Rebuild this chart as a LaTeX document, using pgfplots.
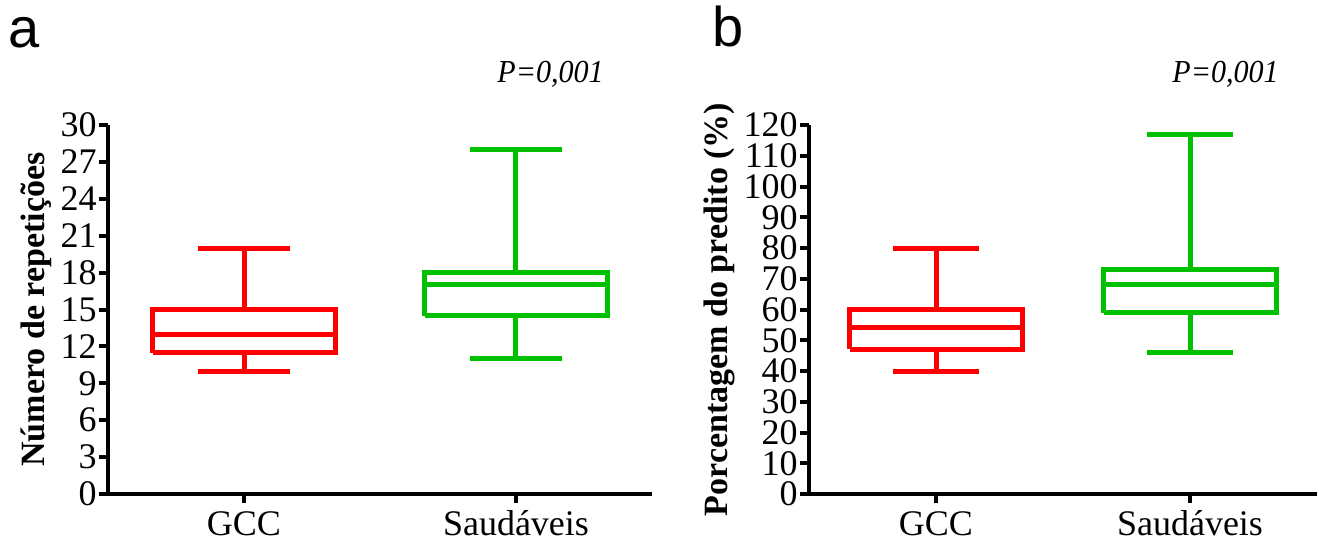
\documentclass[border=0pt]{standalone}
\usepackage{fontspec}
\setmainfont{Liberation Serif}
\newfontfamily\arial{Liberation Sans}
\usepackage{pgfplots}
\pgfplotsset{compat=1.18}
\definecolor{boxred}{RGB}{255,0,0}
\definecolor{boxgreen}{RGB}{0,192,0}

\pgfplotsset{
  panel/.style={
    scale only axis, height=184.5pt,
    axis lines=left, axis line style={-, line width=2pt},
    xmin=0.5, xmax=2.5, ymin=0,
    xtick={1,2}, xticklabels={GCC,Saudáveis},
    tick align=outside, major tick length=4.5pt,
    tick style={black, line width=2pt},
    tick label style={font=\fontsize{18}{18}\selectfont},
    yticklabel style={inner xsep=1pt, inner ysep=0pt},
    xticklabel style={text height=14pt, inner sep=2pt},
    /pgf/number format/assume math mode=true,
    ylabel style={font=\bfseries\fontsize{17}{17}\selectfont},
    clip=false, unbounded coords=jump,
  },
  bx/.style={line width=2.5pt, line join=miter, mark=none, forget plot},
}

\begin{document}
\begin{tikzpicture}
\path[use as bounding box] (0,0) rectangle (659.5pt,-270.5pt);

% panel a: GCC 10 / 11.5 / 13 / 15 / 20, Saudaveis 11 / 14.5 / 17 / 18 / 28
\begin{axis}[panel, at={(54pt,-247pt)}, anchor=south west, width=272pt,
  ymax=30, ytick={0,3,...,30}, ylabel={Número de repetições}]
\addplot[bx, boxred] coordinates {(0.665,11.5)(1.335,11.5)(1.335,15)(0.665,15)(0.665,11.5)};
\addplot[bx, boxred] coordinates {(0.665,13)(1.335,13)(1,nan)
  (1,15)(1,20)(1,nan)(0.8325,20)(1.1675,20)(1,nan)
  (1,11.5)(1,10)(1,nan)(0.8325,10)(1.1675,10)};
\addplot[bx, boxgreen] coordinates {(1.665,14.5)(2.335,14.5)(2.335,18)(1.665,18)(1.665,14.5)};
\addplot[bx, boxgreen] coordinates {(1.665,17)(2.335,17)(2,nan)
  (2,18)(2,28)(2,nan)(1.8325,28)(2.1675,28)(2,nan)
  (2,14.5)(2,11)(2,nan)(1.8325,11)(2.1675,11)};
\end{axis}

% panel b: GCC 40 / 47 / 54 / 60 / 80, Saudaveis 46 / 59 / 68 / 73 / 117
\begin{axis}[panel, at={(404.5pt,-247pt)}, anchor=south west, width=254pt,
  ymax=120, ytick={0,10,...,120}, ylabel={Porcentagem do predito (\%)}]
\addplot[bx, boxred] coordinates {(0.66,47)(1.34,47)(1.34,60)(0.66,60)(0.66,47)};
\addplot[bx, boxred] coordinates {(0.66,54)(1.34,54)(1,nan)
  (1,60)(1,80)(1,nan)(0.8325,80)(1.1675,80)(1,nan)
  (1,47)(1,40)(1,nan)(0.8325,40)(1.1675,40)};
\addplot[bx, boxgreen] coordinates {(1.66,59)(2.34,59)(2.34,73)(1.66,73)(1.66,59)};
\addplot[bx, boxgreen] coordinates {(1.66,68)(2.34,68)(2,nan)
  (2,73)(2,117)(2,nan)(1.8325,117)(2.1675,117)(2,nan)
  (2,59)(2,46)(2,nan)(1.8325,46)(2.1675,46)};
\end{axis}

\node[anchor=base west, inner sep=0pt, font=\arial\fontsize{28}{28}\selectfont] at (4pt,-23.5pt) {a};
\node[anchor=base west, inner sep=0pt, font=\arial\fontsize{28}{28}\selectfont] at (356pt,-23pt) {b};
\node[anchor=base west, inner sep=0pt, font=\itshape\fontsize{16}{16}\selectfont] at (248.5pt,-41pt) {\scalebox{0.94}[1]{P=0,001}};
\node[anchor=base west, inner sep=0pt, font=\itshape\fontsize{16}{16}\selectfont] at (586pt,-41pt) {\scalebox{0.94}[1]{P=0,001}};
\end{tikzpicture}
\end{document}
